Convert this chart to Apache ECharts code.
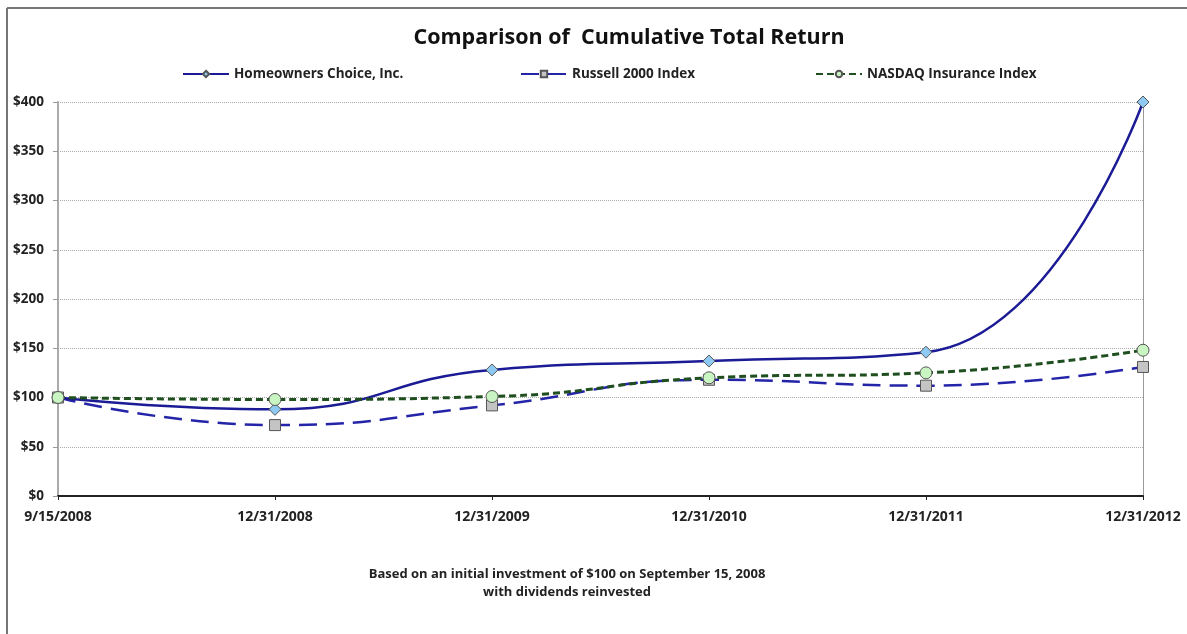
<!DOCTYPE html>
<html>
<head>
<meta charset="utf-8">
<script src="https://cdn.jsdelivr.net/npm/echarts@6/dist/echarts.min.js"></script>
<style>
html,body{margin:0;padding:0;background:#fff;}
#c{width:1187px;height:634px;}
</style>
</head>
<body>
<div id="c"></div>
<script>
const categories = ['9/15/2008','12/31/2008','12/31/2009','12/31/2010','12/31/2011','12/31/2012'];
const homeowners = [100, 88, 128, 137, 146, 400];
const russell = [100, 72, 92, 118, 112, 131];
const nasdaq = [100, 98, 101, 120, 125, 148];
const seriesNames = ['Homeowners Choice, Inc.', 'Russell 2000 Index', 'NASDAQ Insurance Index'];
const yTicks = {min: 0, max: 400, interval: 50};

const FONT = '"Open Sans", "Liberation Sans", sans-serif';
const chart = echarts.init(document.getElementById('c'));

function legendAt(name, left) {
  return {
    data: [name], left: left, top: 67, itemWidth: 46, itemHeight: 8, itemGap: 4,
    textStyle: {fontFamily: FONT, fontWeight: 'bold', fontSize: 13.5, color: '#222'},
    padding: 0
  };
}

chart.setOption({
  animation: false,
  backgroundColor: '#fff',
  title: [
    {text: 'Comparison of  Cumulative Total Return', left: 624, textAlign: 'center', top: 22,
     textStyle: {fontFamily: FONT, fontWeight: 'bold', fontSize: 21.5, color: '#111'}},
    {text: 'Based on an initial investment of $100 on September 15, 2008\nwith dividends reinvested',
     left: 562, textAlign: 'center', top: 560,
     textStyle: {fontFamily: FONT, fontWeight: 'bold', fontSize: 13, color: '#222', lineHeight: 18}}
  ],
  legend: [legendAt(seriesNames[0], 182), legendAt(seriesNames[1], 520), legendAt(seriesNames[2], 815)],
  graphic: [
    {type: 'line', shape: {x1: 7, y1: 8, x2: 1187, y2: 8}, style: {stroke: '#777', lineWidth: 2}},
    {type: 'line', shape: {x1: 7, y1: 8, x2: 7, y2: 634}, style: {stroke: '#777', lineWidth: 2}}
  ],
  grid: {left: 58, right: 44, top: 102, bottom: 138},
  xAxis: {
    type: 'category', data: categories, boundaryGap: false,
    axisLine: {lineStyle: {color: '#222', width: 2}},
    axisTick: {show: true, length: 4, lineStyle: {color: '#222'}},
    axisLabel: {fontFamily: FONT, fontWeight: 'bold', fontSize: 14, color: '#222', margin: 14,
                showMinLabel: true, showMaxLabel: true},
    splitLine: {show: false}
  },
  yAxis: [
    {
      type: 'value', min: yTicks.min, max: yTicks.max, interval: yTicks.interval,
      axisLine: {show: true, lineStyle: {color: '#aaa', width: 2}},
      axisTick: {show: true, length: 5, lineStyle: {color: '#999'}},
      axisLabel: {formatter: '${value}', fontFamily: FONT, fontWeight: 'bold', fontSize: 13.5, color: '#222', margin: 14},
      splitLine: {show: true, lineStyle: {color: '#aaa', type: 'dotted', width: 1}}
    },
    {
      type: 'value', position: 'right', min: yTicks.min, max: yTicks.max, interval: yTicks.interval,
      axisLine: {show: true, lineStyle: {color: '#999', width: 1}},
      axisTick: {show: false}, axisLabel: {show: false}, splitLine: {show: false}
    }
  ],
  series: [
    {
      name: seriesNames[0], type: 'line', data: homeowners, smooth: 0.5,
      symbol: 'diamond', symbolSize: 12,
      lineStyle: {color: '#1b1b96', width: 2.5},
      itemStyle: {color: '#8ec9f2', borderColor: '#555', borderWidth: 1},
      z: 3
    },
    {
      name: seriesNames[1], type: 'line', data: russell, smooth: 0.5,
      symbol: 'rect', symbolSize: 11,
      lineStyle: {color: '#2424a8', width: 2.5, type: [18, 9]},
      itemStyle: {color: '#c4c4c4', borderColor: '#555', borderWidth: 1},
      z: 2
    },
    {
      name: seriesNames[2], type: 'line', data: nasdaq, smooth: 0.5,
      symbol: 'circle', symbolSize: 12,
      lineStyle: {color: '#1f4f1f', width: 3, type: [7, 4]},
      itemStyle: {color: '#c9f5c3', borderColor: '#555', borderWidth: 1},
      z: 4
    }
  ]
});
</script>
</body>
</html>
